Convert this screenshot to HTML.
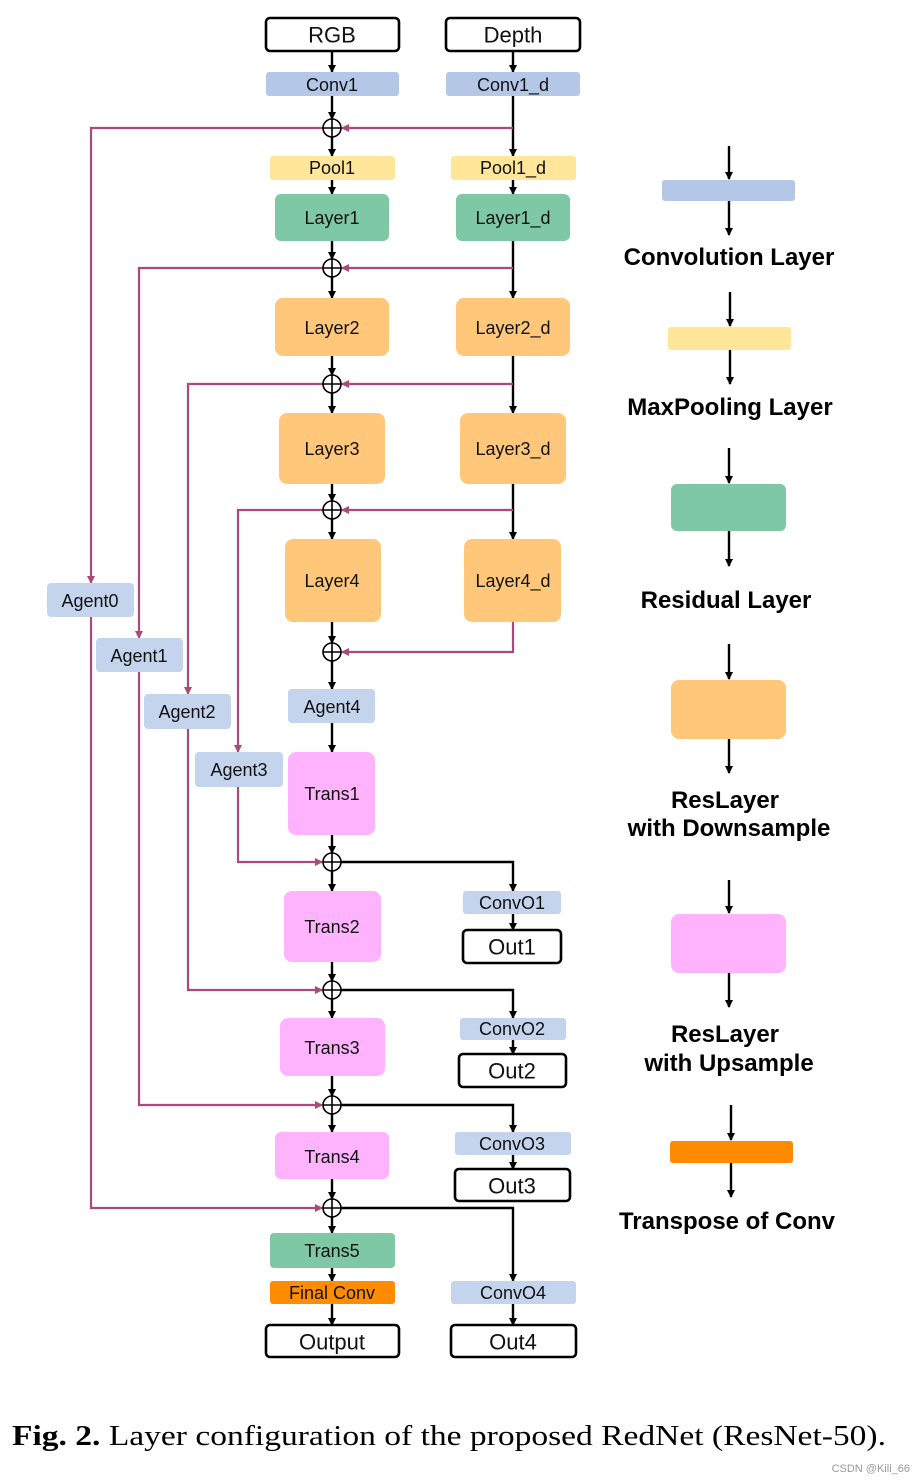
<!DOCTYPE html>
<html><head><meta charset="utf-8"><style>
html,body{margin:0;padding:0;background:#fff;width:924px;height:1482px;overflow:hidden}
svg{display:block}
.n{font-family:"Liberation Sans",sans-serif;font-size:18px;fill:#111;text-anchor:middle;dominant-baseline:central}
.b{font-family:"Liberation Sans",sans-serif;font-size:22px;fill:#111;text-anchor:middle;dominant-baseline:central}
.l{font-family:"Liberation Sans",sans-serif;font-size:24px;font-weight:bold;fill:#000;text-anchor:middle}
.k{stroke:#000;stroke-width:2.4;fill:none}
.m{stroke:#a94a7a;stroke-width:2.2;fill:none}
</style></head><body>
<svg width="924" height="1482" viewBox="0 0 924 1482" xmlns="http://www.w3.org/2000/svg">
<defs>
<marker id="ak" markerWidth="8" markerHeight="8" refX="7" refY="4" orient="auto" markerUnits="userSpaceOnUse"><path d="M0,0 L8,4 L0,8 z" fill="#000"/></marker>
<marker id="am" markerWidth="8" markerHeight="8" refX="7" refY="4" orient="auto" markerUnits="userSpaceOnUse"><path d="M0,0 L8,4 L0,8 z" fill="#a94a7a"/></marker>
</defs>

<g class="k" marker-end="url(#ak)">
<line x1="332" y1="51" x2="332" y2="72"/>
<line x1="513" y1="51" x2="513" y2="72"/>
<line x1="332" y1="96" x2="332" y2="119"/>
<line x1="332" y1="137" x2="332" y2="156"/>
<line x1="513" y1="96" x2="513" y2="156"/>
<line x1="332" y1="180" x2="332" y2="194"/>
<line x1="513" y1="180" x2="513" y2="194"/>
<line x1="332" y1="241" x2="332" y2="259"/>
<line x1="332" y1="277" x2="332" y2="298"/>
<line x1="513" y1="241" x2="513" y2="298"/>
<line x1="332" y1="356" x2="332" y2="375"/>
<line x1="332" y1="393" x2="332" y2="413"/>
<line x1="513" y1="356" x2="513" y2="413"/>
<line x1="332" y1="484" x2="332" y2="501"/>
<line x1="332" y1="519" x2="332" y2="539"/>
<line x1="513" y1="484" x2="513" y2="539"/>
<line x1="332" y1="622" x2="332" y2="643"/>
<line x1="332" y1="661" x2="332" y2="689"/>
<line x1="332" y1="723" x2="332" y2="752"/>
<line x1="332" y1="835" x2="332" y2="853"/>
<line x1="332" y1="871" x2="332" y2="891"/>
<line x1="332" y1="962" x2="332" y2="981"/>
<line x1="332" y1="999" x2="332" y2="1018"/>
<line x1="332" y1="1076" x2="332" y2="1096"/>
<line x1="332" y1="1114" x2="332" y2="1132"/>
<line x1="332" y1="1179" x2="332" y2="1199"/>
<line x1="332" y1="1217" x2="332" y2="1233"/>
<line x1="332" y1="1268" x2="332" y2="1281"/>
<line x1="332" y1="1304" x2="332" y2="1325"/>
<polyline points="341,862 513,862 513,891"/>
<line x1="513" y1="914" x2="513" y2="930"/>
<polyline points="341,990 513,990 513,1018"/>
<line x1="513" y1="1040" x2="513" y2="1054"/>
<polyline points="341,1105 513,1105 513,1132"/>
<line x1="513" y1="1155" x2="513" y2="1169"/>
<polyline points="341,1208 513,1208 513,1281"/>
<line x1="513" y1="1304" x2="513" y2="1325"/>
<line x1="729" y1="146" x2="729" y2="179"/><line x1="729" y1="201" x2="729" y2="235"/>
<line x1="730" y1="292" x2="730" y2="326"/><line x1="730" y1="350" x2="730" y2="384"/>
<line x1="729" y1="448" x2="729" y2="483"/><line x1="729" y1="531" x2="729" y2="566"/>
<line x1="729" y1="644" x2="729" y2="679"/><line x1="729" y1="739" x2="729" y2="773"/>
<line x1="729" y1="880" x2="729" y2="913"/><line x1="729" y1="973" x2="729" y2="1007"/>
<line x1="731" y1="1105" x2="731" y2="1140"/><line x1="731" y1="1163" x2="731" y2="1197"/>
</g>

<g class="m" marker-end="url(#am)">
<line x1="513" y1="128" x2="342" y2="128"/>
<line x1="513" y1="268" x2="342" y2="268"/>
<line x1="513" y1="384" x2="342" y2="384"/>
<line x1="513" y1="510" x2="342" y2="510"/>
<polyline points="513,622 513,652 342,652"/>
<polyline points="323,128 91,128 91,583"/>
<polyline points="323,268 139,268 139,638"/>
<polyline points="323,384 188,384 188,694"/>
<polyline points="323,510 238,510 238,752"/>
<polyline points="238,787 238,862 322,862"/>
<polyline points="188,729 188,990 322,990"/>
<polyline points="139,672 139,1105 322,1105"/>
<polyline points="91,617 91,1208 322,1208"/>
</g>

<g stroke="#000" stroke-width="1.6" fill="none">
<circle cx="332" cy="128" r="9" fill="#fff"/><path d="M323,128h18M332,119v18"/>
<circle cx="332" cy="268" r="9" fill="#fff"/><path d="M323,268h18M332,259v18"/>
<circle cx="332" cy="384" r="9" fill="#fff"/><path d="M323,384h18M332,375v18"/>
<circle cx="332" cy="510" r="9" fill="#fff"/><path d="M323,510h18M332,501v18"/>
<circle cx="332" cy="652" r="9" fill="#fff"/><path d="M323,652h18M332,643v18"/>
<circle cx="332" cy="862" r="9" fill="#fff"/><path d="M323,862h18M332,853v18"/>
<circle cx="332" cy="990" r="9" fill="#fff"/><path d="M323,990h18M332,981v18"/>
<circle cx="332" cy="1105" r="9" fill="#fff"/><path d="M323,1105h18M332,1096v18"/>
<circle cx="332" cy="1208" r="9" fill="#fff"/><path d="M323,1208h18M332,1199v18"/>
</g>

<g fill="#fff" stroke="#000" stroke-width="2.6">
<rect x="266" y="18" width="133" height="33" rx="4"/>
<rect x="446" y="18" width="134" height="33" rx="4"/>
<rect x="463" y="930" width="98" height="33" rx="4"/>
<rect x="459" y="1054" width="107" height="33" rx="4"/>
<rect x="455" y="1169" width="115" height="32" rx="4"/>
<rect x="266" y="1325" width="133" height="32" rx="4"/>
<rect x="451" y="1325" width="125" height="32" rx="4"/>
</g>
<text class="b" x="332" y="35">RGB</text>
<text class="b" x="513" y="35">Depth</text>
<text class="b" x="512" y="947">Out1</text>
<text class="b" x="512" y="1071">Out2</text>
<text class="b" x="512" y="1186">Out3</text>
<text class="b" x="332" y="1342">Output</text>
<text class="b" x="513" y="1342">Out4</text>

<rect x="266" y="72" width="133" height="24" rx="3" fill="#b4c7e7"/>
<rect x="446" y="72" width="134" height="24" rx="3" fill="#b4c7e7"/>
<rect x="270" y="156" width="125" height="24" rx="3" fill="#ffe699"/>
<rect x="451" y="156" width="125" height="24" rx="3" fill="#ffe699"/>
<rect x="275" y="194" width="114" height="47" rx="6" fill="#7fc8a5"/>
<rect x="456" y="194" width="114" height="47" rx="6" fill="#7fc8a5"/>
<rect x="275" y="298" width="114" height="58" rx="8" fill="#ffc77a"/>
<rect x="456" y="298" width="114" height="58" rx="8" fill="#ffc77a"/>
<rect x="279" y="413" width="106" height="71" rx="8" fill="#ffc77a"/>
<rect x="460" y="413" width="106" height="71" rx="8" fill="#ffc77a"/>
<rect x="285" y="539" width="96" height="83" rx="8" fill="#ffc77a"/>
<rect x="464" y="539" width="97" height="83" rx="8" fill="#ffc77a"/>
<rect x="288" y="689" width="87" height="34" rx="4" fill="#c5d4ed"/>
<rect x="47" y="583" width="87" height="34" rx="4" fill="#c5d4ed"/>
<rect x="96" y="638" width="87" height="34" rx="4" fill="#c5d4ed"/>
<rect x="144" y="694" width="87" height="35" rx="4" fill="#c5d4ed"/>
<rect x="195" y="752" width="88" height="35" rx="4" fill="#c5d4ed"/>
<rect x="288" y="752" width="87" height="83" rx="8" fill="#ffb3fd"/>
<rect x="284" y="891" width="97" height="71" rx="8" fill="#ffb3fd"/>
<rect x="280" y="1018" width="105" height="58" rx="8" fill="#ffb3fd"/>
<rect x="275" y="1132" width="114" height="47" rx="6" fill="#ffb3fd"/>
<rect x="270" y="1233" width="125" height="35" rx="4" fill="#7fc8a5"/>
<rect x="270" y="1281" width="125" height="23" rx="3" fill="#ff8c00"/>
<rect x="463" y="891" width="98" height="23" rx="3" fill="#c5d4ed"/>
<rect x="460" y="1018" width="106" height="22" rx="3" fill="#c5d4ed"/>
<rect x="455" y="1132" width="116" height="23" rx="3" fill="#c5d4ed"/>
<rect x="451" y="1281" width="125" height="23" rx="3" fill="#c5d4ed"/>

<text class="n" x="332" y="85">Conv1</text>
<text class="n" x="513" y="85">Conv1_d</text>
<text class="n" x="332" y="168">Pool1</text>
<text class="n" x="513" y="168">Pool1_d</text>
<text class="n" x="332" y="218">Layer1</text>
<text class="n" x="513" y="218">Layer1_d</text>
<text class="n" x="332" y="328">Layer2</text>
<text class="n" x="513" y="328">Layer2_d</text>
<text class="n" x="332" y="449">Layer3</text>
<text class="n" x="513" y="449">Layer3_d</text>
<text class="n" x="332" y="581">Layer4</text>
<text class="n" x="513" y="581">Layer4_d</text>
<text class="n" x="332" y="707">Agent4</text>
<text class="n" x="90" y="601">Agent0</text>
<text class="n" x="139" y="656">Agent1</text>
<text class="n" x="187" y="712">Agent2</text>
<text class="n" x="239" y="770">Agent3</text>
<text class="n" x="332" y="794">Trans1</text>
<text class="n" x="332" y="927">Trans2</text>
<text class="n" x="332" y="1048">Trans3</text>
<text class="n" x="332" y="1157">Trans4</text>
<text class="n" x="332" y="1251">Trans5</text>
<text class="n" x="332" y="1293">Final Conv</text>
<text class="n" x="512" y="903">ConvO1</text>
<text class="n" x="512" y="1029">ConvO2</text>
<text class="n" x="512" y="1144">ConvO3</text>
<text class="n" x="513" y="1293">ConvO4</text>

<rect x="662" y="180" width="133" height="21" rx="3" fill="#b4c7e7"/>
<rect x="668" y="327" width="123" height="23" rx="3" fill="#ffe699"/>
<rect x="671" y="484" width="115" height="47" rx="6" fill="#7fc8a5"/>
<rect x="671" y="680" width="115" height="59" rx="8" fill="#ffc77a"/>
<rect x="671" y="914" width="115" height="59" rx="8" fill="#ffb3fd"/>
<rect x="670" y="1141" width="123" height="22" rx="3" fill="#ff8c00"/>
<text class="l" x="729" y="265">Convolution Layer</text>
<text class="l" x="730" y="415">MaxPooling Layer</text>
<text class="l" x="726" y="608">Residual Layer</text>
<text class="l" x="725" y="808">ResLayer</text>
<text class="l" x="729" y="836">with Downsample</text>
<text class="l" x="725" y="1042">ResLayer</text>
<text class="l" x="729" y="1071">with Upsample</text>
<text class="l" x="727" y="1229">Transpose of Conv</text>

<text x="12" y="1445" font-family="Liberation Serif, serif" font-size="28" fill="#000" textLength="874" lengthAdjust="spacingAndGlyphs"><tspan font-weight="bold">Fig. 2.</tspan> Layer configuration of the proposed RedNet (ResNet-50).</text>
<text x="910" y="1472" font-family="Liberation Sans, sans-serif" font-size="11" fill="#999" text-anchor="end">CSDN @Kili_66</text>
</svg>
</body></html>
